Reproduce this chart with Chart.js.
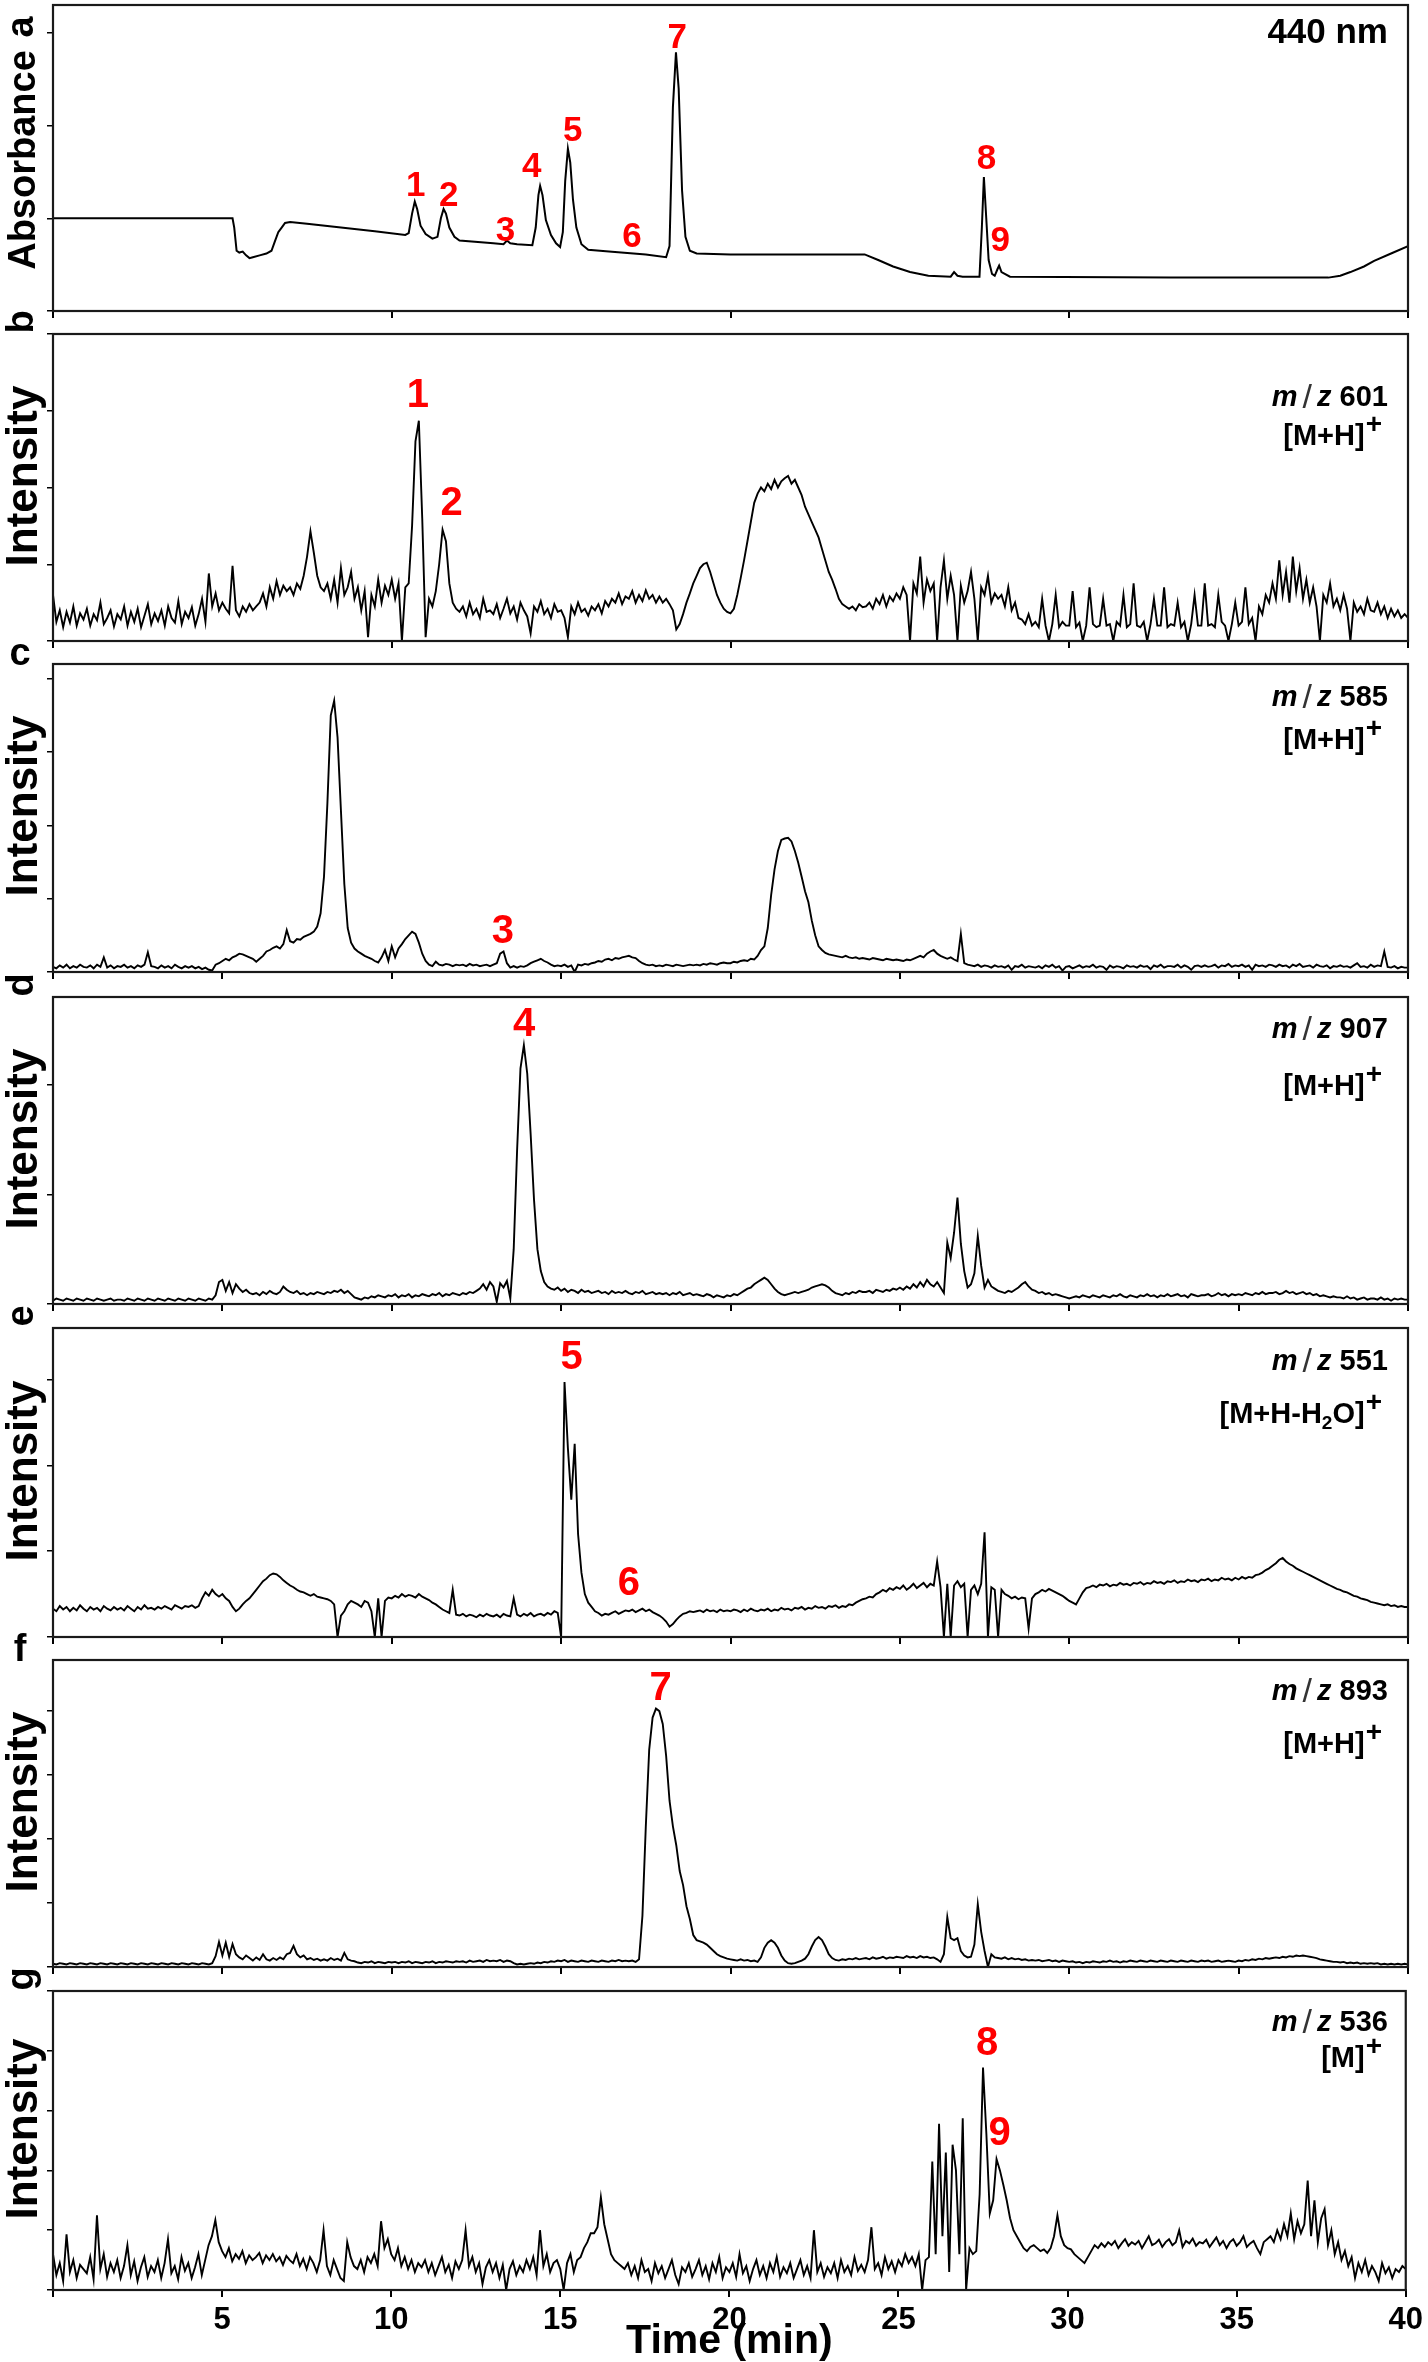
<!DOCTYPE html>
<html>
<head>
<meta charset="utf-8">
<script src="https://cdn.jsdelivr.net/npm/chart.js@4.4.1/dist/chart.umd.min.js"></script>
<style>
  html, body { margin: 0; padding: 0; background: #fff; }
  #fig { position: relative; width: 1428px; height: 2362px; overflow: hidden; background: #fff;
         font-family: "Liberation Sans", Arial, Helvetica, sans-serif; color: #000; }
  #fig canvas { position: absolute; left: 0; }
  .t { position: absolute; white-space: nowrap; font-weight: bold; line-height: 1; }
  .ytitle { font-size: 44px; transform: translate(-50%, -50%) rotate(-90deg); }
  .ytitle.abs { font-size: 38px; }
  .letter { font-size: 38px; transform: translate(-50%, -50%); }
  .letter.rot { transform: translate(-50%, -50%) rotate(-90deg); }
  .mz { right: 40px; text-align: right; font-size: 29px; transform: translateY(-50%); }
  .mz .sl { font-weight: normal; font-size: 34px; color: #333; margin: 0 5px; position: relative; top: 2px; }
  .mz sup { font-size: 28px; position: relative; top: -12px; vertical-align: baseline; margin-left: 1px; }
  .mz sub { font-size: 19px; position: relative; top: 6px; vertical-align: baseline; }
  .peak { color: #f00; font-size: 40px; transform: translate(-50%, -50%); }
  .peak.small { font-size: 35px; }
</style>
</head>
<body>
<div id="fig"></div>
<script>
/* ---------- data ---------- */

// panel a: absorbance at 440 nm, [time (min), absorbance (tick units)]
const traceA = [
  [0,1.0],[5.3,1.0],[5.35,0.9],[5.42,0.65],[5.5,0.63],[5.6,0.64],[5.7,0.6],[5.8,0.57],[5.9,0.58],
  [6.1,0.6],[6.3,0.62],[6.45,0.65],[6.55,0.75],[6.65,0.85],[6.75,0.9],[6.85,0.95],[7.0,0.96],
  [7.5,0.94],[8.5,0.9],[9.5,0.86],[10.4,0.82],[10.5,0.84],[10.6,1.05],[10.68,1.18],[10.75,1.1],
  [10.85,0.92],[11.0,0.83],[11.2,0.78],[11.35,0.8],[11.45,1.0],[11.53,1.1],[11.6,1.05],[11.7,0.9],
  [11.85,0.8],[12.0,0.76],[13.0,0.73],[13.3,0.72],[13.4,0.76],[13.5,0.73],[13.7,0.72],[14.15,0.71],
  [14.25,0.9],[14.33,1.25],[14.38,1.35],[14.45,1.25],[14.55,0.98],[14.7,0.82],[14.85,0.73],
  [14.97,0.69],[15.05,0.85],[15.12,1.4],[15.2,1.75],[15.27,1.6],[15.35,1.2],[15.45,0.9],[15.6,0.72],
  [15.8,0.66],[16.5,0.64],[17.5,0.61],[18.1,0.58],[18.2,0.7],[18.3,2.2],[18.39,2.79],[18.47,2.4],
  [18.57,1.3],[18.67,0.8],[18.8,0.65],[19.0,0.62],[20,0.61],[23.96,0.61],[24.36,0.55],[24.8,0.48],
  [25.3,0.42],[25.84,0.38],[26.5,0.37],[26.6,0.42],[26.7,0.38],[26.85,0.37],[27.35,0.37],
  [27.42,0.9],[27.48,1.445],[27.55,1.0],[27.62,0.55],[27.72,0.4],[27.8,0.38],[27.88,0.45],
  [27.93,0.49],[28.0,0.42],[28.25,0.37],[33,0.36],[37.65,0.36],[38.0,0.38],[38.3,0.42],
  [38.7,0.48],[39.0,0.54],[39.5,0.62],[40,0.7]
];

// MS extracted-ion traces, one value every SAMPLE_MIN minutes from 0 to 40 (one row = 1 min)
const SAMPLE_MIN = 0.1;

const intensB = [ // m/z 601
  0.6,0.25,0.4,0.18,0.38,0.24,0.45,0.2,0.36,0.28,
  0.42,0.2,0.35,0.27,0.5,0.22,0.3,0.4,0.19,0.35,
  0.28,0.45,0.2,0.38,0.25,0.42,0.18,0.33,0.48,0.22,
  0.36,0.26,0.4,0.2,0.45,0.3,0.24,0.52,0.22,0.38,
  0.3,0.44,0.2,0.35,0.55,0.25,0.88,0.45,0.62,0.4,
  0.5,0.42,0.36,0.98,0.4,0.32,0.45,0.38,0.48,0.4,
  0.45,0.5,0.62,0.45,0.7,0.55,0.78,0.6,0.72,0.65,
  0.7,0.6,0.75,0.68,0.85,1.1,1.43,1.15,0.85,0.7,
  0.65,0.75,0.55,0.8,0.5,0.95,0.6,0.7,0.9,0.55,
  0.7,0.4,0.65,0.05,0.6,0.45,0.8,0.5,0.72,0.6,
  0.8,0.55,0.75,0.0,0.7,0.75,1.5,2.6,2.87,1.6,
  0.05,0.55,0.45,0.65,1.0,1.45,1.3,0.75,0.5,0.42,
  0.38,0.45,0.32,0.5,0.35,0.42,0.3,0.55,0.38,0.4,
  0.35,0.48,0.3,0.42,0.55,0.36,0.45,0.28,0.5,0.4,
  0.32,0.1,0.45,0.38,0.52,0.35,0.42,0.3,0.48,0.38,
  0.4,0.3,0.05,0.45,0.35,0.5,0.38,0.42,0.33,0.45,
  0.4,0.48,0.36,0.52,0.45,0.55,0.5,0.62,0.48,0.58,
  0.55,0.65,0.5,0.6,0.52,0.66,0.55,0.6,0.5,0.58,
  0.5,0.55,0.48,0.4,0.15,0.22,0.35,0.5,0.62,0.75,
  0.85,0.95,1.0,1.02,0.9,0.75,0.6,0.5,0.42,0.38,
  0.36,0.42,0.6,0.82,1.05,1.3,1.55,1.8,1.92,2.0,
  1.95,2.05,1.98,2.1,2.0,2.08,2.12,2.15,2.05,2.1,
  2.0,1.9,1.75,1.65,1.55,1.45,1.35,1.2,1.05,0.9,
  0.8,0.68,0.55,0.48,0.45,0.42,0.45,0.4,0.48,0.44,
  0.45,0.5,0.42,0.55,0.48,0.6,0.45,0.58,0.52,0.62,
  0.55,0.7,0.6,0.0,0.75,0.62,1.1,0.5,0.8,0.65,
  0.75,0.0,0.7,1.05,0.55,0.85,0.6,0.0,0.72,0.5,
  0.65,0.9,0.55,0.0,0.7,0.6,0.85,0.5,0.62,0.55,
  0.6,0.45,0.7,0.4,0.5,0.3,0.28,0.22,0.35,0.2,
  0.25,0.18,0.55,0.2,0.0,0.22,0.6,0.18,0.25,0.2,
  0.2,0.65,0.18,0.24,0.0,0.2,0.7,0.22,0.18,0.2,
  0.55,0.2,0.22,0.0,0.25,0.2,0.6,0.18,0.22,0.75,
  0.2,0.18,0.25,0.0,0.22,0.55,0.2,0.2,0.7,0.18,
  0.22,0.2,0.5,0.18,0.25,0.0,0.22,0.6,0.2,0.2,
  0.75,0.2,0.22,0.18,0.6,0.25,0.2,0.0,0.22,0.5,
  0.2,0.25,0.7,0.22,0.3,0.0,0.45,0.35,0.6,0.5,
  0.75,0.55,1.05,0.6,0.9,0.5,1.1,0.65,0.95,0.55,
  0.8,0.5,0.7,0.45,0.0,0.6,0.5,0.75,0.45,0.55,
  0.4,0.6,0.42,0.0,0.5,0.38,0.45,0.35,0.55,0.4,
  0.38,0.5,0.35,0.45,0.3,0.42,0.32,0.4,0.3,0.35,
  0.3
];

const intensC = [ // m/z 585
  0.07,0.05,0.09,0.06,0.1,0.05,0.08,0.06,0.1,0.07,
  0.06,0.09,0.05,0.1,0.07,0.2,0.06,0.09,0.05,0.08,
  0.07,0.1,0.06,0.08,0.05,0.09,0.07,0.1,0.27,0.08,
  0.07,0.05,0.09,0.06,0.08,0.05,0.1,0.07,0.05,0.08,
  0.06,0.08,0.05,0.07,0.04,0.06,0.03,0.02,0.1,0.12,
  0.15,0.18,0.16,0.2,0.22,0.25,0.24,0.22,0.2,0.18,
  0.14,0.18,0.22,0.28,0.3,0.33,0.35,0.32,0.38,0.57,
  0.42,0.4,0.45,0.44,0.48,0.5,0.52,0.55,0.62,0.8,
  1.3,2.3,3.5,3.7,3.2,2.2,1.2,0.6,0.4,0.32,
  0.28,0.25,0.22,0.2,0.18,0.15,0.13,0.2,0.3,0.15,
  0.35,0.2,0.32,0.38,0.45,0.5,0.55,0.52,0.4,0.25,
  0.15,0.1,0.08,0.14,0.1,0.09,0.11,0.1,0.08,0.1,
  0.09,0.1,0.08,0.11,0.09,0.1,0.08,0.09,0.1,0.08,
  0.1,0.12,0.25,0.28,0.12,0.06,0.08,0.06,0.08,0.07,
  0.09,0.12,0.14,0.16,0.18,0.15,0.13,0.1,0.08,0.09,
  0.08,0.1,0.07,0.09,0.0,0.1,0.09,0.11,0.1,0.12,
  0.13,0.15,0.14,0.17,0.18,0.16,0.19,0.18,0.2,0.21,
  0.22,0.2,0.19,0.15,0.12,0.1,0.09,0.1,0.08,0.09,
  0.08,0.1,0.09,0.08,0.1,0.09,0.08,0.09,0.1,0.09,
  0.1,0.09,0.11,0.1,0.12,0.11,0.1,0.12,0.13,0.12,
  0.12,0.14,0.13,0.15,0.16,0.15,0.18,0.17,0.22,0.3,
  0.35,0.6,1.05,1.4,1.65,1.8,1.82,1.83,1.78,1.65,
  1.49,1.3,1.1,0.95,0.7,0.5,0.35,0.3,0.26,0.24,
  0.23,0.22,0.21,0.2,0.22,0.2,0.19,0.2,0.18,0.19,
  0.18,0.17,0.19,0.18,0.17,0.16,0.18,0.17,0.16,0.17,
  0.16,0.15,0.17,0.16,0.18,0.2,0.22,0.2,0.25,0.28,
  0.3,0.25,0.22,0.2,0.18,0.2,0.17,0.15,0.52,0.12,
  0.1,0.09,0.08,0.1,0.07,0.09,0.08,0.06,0.09,0.07,
  0.08,0.06,0.09,0.03,0.08,0.07,0.1,0.06,0.08,0.07,
  0.06,0.08,0.05,0.09,0.07,0.1,0.06,0.08,0.02,0.07,
  0.08,0.05,0.07,0.09,0.06,0.08,0.07,0.1,0.06,0.08,
  0.07,0.03,0.09,0.06,0.08,0.07,0.05,0.09,0.07,0.08,
  0.06,0.09,0.07,0.08,0.04,0.09,0.07,0.1,0.06,0.08,
  0.08,0.07,0.1,0.06,0.09,0.07,0.03,0.08,0.09,0.07,
  0.09,0.07,0.08,0.1,0.06,0.09,0.08,0.11,0.07,0.09,
  0.08,0.1,0.07,0.09,0.03,0.1,0.08,0.09,0.07,0.1,
  0.09,0.07,0.1,0.08,0.09,0.06,0.1,0.08,0.11,0.07,
  0.08,0.09,0.06,0.1,0.08,0.07,0.09,0.05,0.08,0.07,
  0.09,0.07,0.08,0.06,0.09,0.12,0.07,0.08,0.06,0.1,
  0.07,0.09,0.08,0.28,0.07,0.06,0.08,0.05,0.07,0.06,
  0.06
];

const intensD = [ // m/z 907
  0.03,0.05,0.04,0.03,0.05,0.04,0.03,0.05,0.04,0.03,
  0.05,0.04,0.03,0.05,0.04,0.03,0.04,0.05,0.03,0.04,
  0.04,0.03,0.05,0.04,0.03,0.05,0.04,0.03,0.05,0.04,
  0.03,0.05,0.04,0.03,0.05,0.04,0.03,0.05,0.04,0.03,
  0.05,0.04,0.03,0.05,0.04,0.03,0.05,0.04,0.08,0.2,
  0.22,0.12,0.2,0.1,0.18,0.14,0.11,0.13,0.1,0.09,
  0.1,0.08,0.11,0.09,0.12,0.1,0.09,0.11,0.16,0.13,
  0.11,0.1,0.12,0.09,0.1,0.08,0.1,0.09,0.11,0.1,
  0.09,0.11,0.1,0.12,0.11,0.13,0.1,0.12,0.09,0.06,
  0.05,0.04,0.06,0.05,0.07,0.06,0.08,0.07,0.06,0.08,
  0.07,0.09,0.06,0.08,0.07,0.09,0.06,0.08,0.07,0.09,
  0.08,0.07,0.09,0.08,0.1,0.07,0.09,0.08,0.1,0.09,
  0.08,0.1,0.09,0.11,0.1,0.12,0.14,0.18,0.13,0.2,
  0.16,0.02,0.19,0.15,0.21,0.05,0.5,1.4,2.15,2.36,
  2.1,1.55,0.95,0.5,0.3,0.2,0.16,0.14,0.13,0.15,
  0.12,0.14,0.11,0.13,0.12,0.1,0.13,0.11,0.12,0.1,
  0.11,0.12,0.1,0.11,0.09,0.12,0.1,0.11,0.1,0.12,
  0.1,0.09,0.11,0.1,0.12,0.09,0.1,0.11,0.09,0.1,
  0.09,0.1,0.08,0.1,0.09,0.11,0.08,0.09,0.1,0.08,
  0.09,0.08,0.07,0.09,0.08,0.06,0.08,0.07,0.06,0.08,
  0.07,0.09,0.08,0.1,0.12,0.14,0.15,0.18,0.2,0.22,
  0.24,0.22,0.18,0.14,0.11,0.09,0.08,0.09,0.1,0.11,
  0.1,0.11,0.12,0.13,0.15,0.16,0.17,0.18,0.17,0.15,
  0.12,0.1,0.09,0.08,0.1,0.09,0.11,0.1,0.12,0.11,
  0.11,0.12,0.1,0.13,0.12,0.11,0.13,0.12,0.14,0.13,
  0.15,0.13,0.16,0.14,0.18,0.15,0.2,0.16,0.22,0.18,
  0.16,0.2,0.15,0.1,0.56,0.42,0.65,0.97,0.55,0.3,
  0.15,0.18,0.28,0.62,0.35,0.15,0.22,0.16,0.14,0.12,
  0.11,0.1,0.12,0.11,0.13,0.15,0.18,0.2,0.16,0.13,
  0.12,0.1,0.11,0.09,0.1,0.08,0.09,0.08,0.07,0.06,
  0.05,0.06,0.07,0.06,0.08,0.07,0.06,0.08,0.07,0.06,
  0.08,0.07,0.06,0.08,0.07,0.09,0.07,0.06,0.08,0.07,
  0.06,0.08,0.07,0.09,0.07,0.08,0.06,0.08,0.07,0.09,
  0.07,0.08,0.09,0.07,0.08,0.06,0.09,0.08,0.07,0.08,
  0.08,0.09,0.07,0.08,0.1,0.08,0.09,0.07,0.09,0.08,
  0.09,0.08,0.1,0.09,0.08,0.1,0.09,0.11,0.09,0.1,
  0.1,0.11,0.09,0.1,0.12,0.1,0.11,0.09,0.1,0.11,
  0.09,0.1,0.08,0.09,0.07,0.08,0.07,0.06,0.07,0.06,
  0.06,0.05,0.07,0.05,0.06,0.04,0.05,0.06,0.04,0.05,
  0.05,0.04,0.06,0.04,0.05,0.03,0.05,0.04,0.05,0.04,
  0.04
];

const intensE = [ // m/z 551
  0.33,0.3,0.36,0.32,0.35,0.3,0.34,0.31,0.37,0.33,
  0.3,0.35,0.32,0.34,0.3,0.36,0.33,0.31,0.35,0.32,
  0.34,0.31,0.36,0.33,0.3,0.35,0.32,0.37,0.33,0.34,
  0.32,0.35,0.33,0.36,0.34,0.32,0.37,0.35,0.33,0.36,
  0.35,0.37,0.34,0.36,0.45,0.52,0.48,0.55,0.5,0.47,
  0.5,0.45,0.42,0.35,0.3,0.33,0.38,0.42,0.45,0.5,
  0.55,0.6,0.65,0.68,0.72,0.74,0.73,0.7,0.66,0.63,
  0.6,0.58,0.55,0.53,0.52,0.5,0.48,0.5,0.47,0.46,
  0.45,0.44,0.42,0.38,0.0,0.25,0.3,0.38,0.42,0.4,
  0.38,0.35,0.42,0.4,0.3,0.0,0.45,0.0,0.42,0.46,
  0.45,0.48,0.46,0.5,0.47,0.49,0.48,0.46,0.5,0.47,
  0.45,0.43,0.4,0.38,0.35,0.32,0.3,0.28,0.55,0.26,
  0.25,0.27,0.24,0.26,0.25,0.23,0.26,0.24,0.27,0.25,
  0.24,0.26,0.23,0.27,0.25,0.24,0.45,0.26,0.24,0.27,
  0.25,0.28,0.24,0.26,0.27,0.25,0.28,0.26,0.3,0.28,
  0.0,2.97,2.2,1.6,2.25,1.2,0.75,0.5,0.4,0.35,
  0.3,0.28,0.25,0.27,0.26,0.28,0.3,0.27,0.29,0.31,
  0.3,0.32,0.29,0.31,0.33,0.3,0.32,0.29,0.27,0.25,
  0.22,0.18,0.12,0.15,0.2,0.24,0.27,0.28,0.3,0.29,
  0.3,0.31,0.29,0.32,0.3,0.31,0.29,0.32,0.3,0.31,
  0.3,0.32,0.31,0.29,0.32,0.3,0.33,0.31,0.3,0.32,
  0.31,0.33,0.3,0.32,0.31,0.34,0.32,0.33,0.31,0.34,
  0.33,0.35,0.32,0.34,0.33,0.36,0.34,0.35,0.33,0.36,
  0.35,0.37,0.34,0.36,0.35,0.38,0.37,0.4,0.42,0.44,
  0.45,0.47,0.46,0.5,0.52,0.55,0.53,0.57,0.55,0.58,
  0.56,0.6,0.55,0.58,0.62,0.57,0.6,0.63,0.58,0.62,
  0.6,0.88,0.58,0.0,0.62,0.0,0.6,0.65,0.58,0.62,
  0.0,0.55,0.6,0.5,0.62,1.22,0.0,0.58,0.55,0.0,
  0.55,0.5,0.48,0.45,0.47,0.44,0.46,0.45,0.1,0.45,
  0.5,0.52,0.55,0.53,0.56,0.54,0.52,0.5,0.48,0.45,
  0.42,0.4,0.38,0.45,0.52,0.57,0.58,0.6,0.58,0.61,
  0.6,0.62,0.59,0.61,0.6,0.63,0.61,0.62,0.6,0.63,
  0.62,0.64,0.61,0.63,0.62,0.65,0.63,0.64,0.62,0.65,
  0.64,0.66,0.63,0.65,0.64,0.67,0.65,0.66,0.64,0.67,
  0.66,0.68,0.65,0.67,0.66,0.69,0.67,0.68,0.66,0.69,
  0.67,0.7,0.68,0.7,0.69,0.72,0.73,0.75,0.78,0.8,
  0.83,0.86,0.9,0.92,0.88,0.85,0.83,0.8,0.78,0.76,
  0.74,0.72,0.7,0.68,0.66,0.64,0.62,0.6,0.58,0.56,
  0.55,0.53,0.52,0.5,0.48,0.47,0.45,0.44,0.43,0.41,
  0.4,0.39,0.38,0.37,0.38,0.36,0.37,0.35,0.36,0.35,
  0.35
];

const intensF = [ // m/z 893
  0.05,0.04,0.06,0.05,0.04,0.06,0.05,0.04,0.06,0.05,
  0.04,0.06,0.05,0.04,0.06,0.05,0.04,0.06,0.05,0.04,
  0.06,0.05,0.04,0.06,0.05,0.04,0.06,0.05,0.04,0.06,
  0.05,0.04,0.06,0.05,0.04,0.06,0.05,0.04,0.06,0.05,
  0.04,0.06,0.05,0.04,0.06,0.05,0.04,0.06,0.17,0.39,
  0.18,0.38,0.16,0.36,0.2,0.15,0.12,0.18,0.14,0.1,
  0.15,0.11,0.2,0.12,0.1,0.14,0.11,0.15,0.12,0.2,
  0.22,0.33,0.2,0.15,0.18,0.12,0.14,0.11,0.13,0.1,
  0.12,0.1,0.14,0.11,0.13,0.1,0.22,0.12,0.1,0.09,
  0.07,0.06,0.08,0.07,0.09,0.06,0.08,0.07,0.06,0.08,
  0.07,0.08,0.06,0.08,0.07,0.09,0.06,0.08,0.07,0.06,
  0.08,0.07,0.09,0.06,0.08,0.07,0.09,0.08,0.07,0.09,
  0.08,0.09,0.07,0.1,0.08,0.09,0.1,0.08,0.11,0.09,
  0.1,0.09,0.11,0.08,0.1,0.09,0.06,0.04,0.05,0.04,
  0.05,0.06,0.05,0.07,0.06,0.08,0.07,0.09,0.08,0.1,
  0.09,0.11,0.08,0.1,0.09,0.08,0.1,0.09,0.08,0.1,
  0.09,0.08,0.1,0.09,0.08,0.1,0.09,0.11,0.09,0.1,
  0.09,0.1,0.08,0.12,0.8,2.2,3.4,3.9,4.04,4.0,
  3.8,3.3,2.6,2.2,1.9,1.5,1.28,0.95,0.75,0.5,
  0.42,0.4,0.38,0.35,0.3,0.25,0.2,0.17,0.15,0.13,
  0.12,0.11,0.1,0.12,0.1,0.11,0.09,0.1,0.08,0.15,
  0.3,0.38,0.42,0.38,0.3,0.18,0.1,0.06,0.05,0.06,
  0.08,0.1,0.13,0.2,0.32,0.42,0.47,0.42,0.32,0.2,
  0.14,0.11,0.1,0.12,0.11,0.13,0.12,0.14,0.12,0.13,
  0.14,0.12,0.15,0.13,0.14,0.16,0.13,0.15,0.14,0.16,
  0.15,0.14,0.17,0.15,0.16,0.14,0.17,0.15,0.16,0.14,
  0.15,0.12,0.08,0.2,0.78,0.45,0.42,0.45,0.25,0.18,
  0.15,0.16,0.35,0.98,0.55,0.25,0.0,0.2,0.15,0.14,
  0.13,0.15,0.12,0.14,0.12,0.13,0.11,0.12,0.1,0.11,
  0.1,0.11,0.09,0.1,0.11,0.09,0.1,0.08,0.1,0.09,
  0.08,0.09,0.07,0.08,0.06,0.08,0.07,0.09,0.08,0.07,
  0.09,0.08,0.1,0.08,0.09,0.07,0.09,0.08,0.1,0.09,
  0.08,0.1,0.09,0.08,0.1,0.09,0.08,0.1,0.09,0.08,
  0.1,0.09,0.08,0.1,0.09,0.08,0.1,0.09,0.08,0.1,
  0.09,0.1,0.08,0.09,0.1,0.08,0.09,0.1,0.09,0.08,
  0.1,0.09,0.11,0.1,0.12,0.11,0.13,0.12,0.14,0.13,
  0.14,0.15,0.14,0.16,0.15,0.17,0.16,0.18,0.17,0.18,
  0.17,0.16,0.15,0.14,0.12,0.11,0.1,0.09,0.08,0.08,
  0.07,0.08,0.06,0.07,0.06,0.07,0.05,0.06,0.05,0.06,
  0.05,0.06,0.04,0.05,0.04,0.05,0.04,0.05,0.04,0.05,
  0.04
];

const intensG = [ // m/z 536
  0.6,0.25,0.45,0.15,0.93,0.3,0.5,0.2,0.42,0.35,
  0.28,0.55,0.18,1.25,0.35,0.6,0.22,0.45,0.3,0.5,
  0.2,0.4,0.75,0.25,0.48,0.15,0.38,0.55,0.22,0.4,
  0.3,0.5,0.2,0.45,0.85,0.28,0.4,0.18,0.55,0.32,
  0.45,0.2,0.38,0.6,0.25,0.5,0.75,0.9,1.17,0.8,
  0.65,0.55,0.7,0.48,0.6,0.52,0.65,0.45,0.58,0.5,
  0.55,0.62,0.45,0.58,0.5,0.6,0.48,0.55,0.42,0.57,
  0.5,0.45,0.6,0.4,0.52,0.35,0.55,0.45,0.3,0.5,
  1.0,0.4,0.25,0.5,0.35,0.2,0.15,0.8,0.55,0.4,
  0.35,0.5,0.3,0.55,0.45,0.6,0.4,1.15,0.7,0.85,
  0.6,0.5,0.7,0.4,0.55,0.35,0.5,0.3,0.45,0.38,
  0.5,0.3,0.45,0.25,0.4,0.55,0.3,0.42,0.2,0.48,
  0.35,0.5,1.0,0.4,0.55,0.3,0.45,0.1,0.38,0.5,
  0.3,0.45,0.2,0.42,0.0,0.35,0.48,0.25,0.4,0.3,
  0.5,0.35,0.55,0.25,1.0,0.4,0.6,0.3,0.45,0.5,
  0.35,0.0,0.45,0.6,0.3,0.5,0.55,0.7,0.8,0.95,
  0.95,1.05,1.55,1.1,0.85,0.6,0.5,0.45,0.4,0.35,
  0.45,0.25,0.4,0.2,0.5,0.3,0.35,0.15,0.45,0.28,
  0.4,0.2,0.35,0.5,0.25,0.1,0.38,0.3,0.45,0.22,
  0.35,0.5,0.25,0.4,0.18,0.45,0.3,0.55,0.2,0.38,
  0.3,0.45,0.22,0.6,0.28,0.4,0.15,0.35,0.5,0.25,
  0.4,0.2,0.45,0.3,0.55,0.22,0.38,0.28,0.45,0.2,
  0.35,0.5,0.25,0.4,0.2,1.0,0.3,0.45,0.22,0.38,
  0.28,0.45,0.2,0.5,0.3,0.4,0.25,0.55,0.32,0.42,
  0.3,0.5,1.05,0.35,0.45,0.25,0.55,0.35,0.48,0.3,
  0.5,0.4,0.6,0.45,0.55,0.4,0.6,0.0,0.5,0.55,
  2.15,0.6,2.78,0.9,2.3,0.3,2.43,2.0,0.6,2.87,
  0.0,0.7,0.6,0.65,1.6,3.72,2.6,1.28,1.5,2.19,
  2.0,1.76,1.5,1.2,1.0,0.9,0.8,0.7,0.65,0.72,
  0.75,0.7,0.65,0.68,0.62,0.7,0.9,1.25,0.9,0.75,
  0.7,0.68,0.6,0.55,0.5,0.45,0.55,0.65,0.75,0.7,
  0.78,0.72,0.8,0.75,0.82,0.7,0.78,0.85,0.74,0.8,
  0.76,0.82,0.7,0.8,0.9,0.75,0.78,0.84,0.72,0.8,
  0.85,0.75,0.8,1.0,0.72,0.82,0.78,0.86,0.74,0.8,
  0.78,0.84,0.72,0.8,0.88,0.75,0.82,0.7,0.8,0.85,
  0.74,0.8,0.9,0.72,0.78,0.82,0.7,0.6,0.8,0.85,
  0.9,0.8,1.0,0.85,1.1,0.9,1.28,0.85,1.15,0.95,
  1.1,1.83,0.9,1.5,0.8,1.2,1.35,0.75,1.0,0.6,
  0.8,0.5,0.65,0.4,0.55,0.2,0.45,0.3,0.5,0.25,
  0.4,0.3,0.15,0.45,0.28,0.38,0.2,0.35,0.3,0.4,
  0.35
];

// red peak numbers: text, time (min), height (tick units)
const peaksA = [
  {text:'1', t:10.71, v:1.38}, {text:'2', t:11.68, v:1.27}, {text:'3', t:13.36, v:0.9},
  {text:'4', t:14.13, v:1.58}, {text:'5', t:15.34, v:1.97}, {text:'6', t:17.09, v:0.83},
  {text:'7', t:18.43, v:2.98}, {text:'8', t:27.56, v:1.67}, {text:'9', t:27.96, v:0.79}
];
const peaksB = [{text:'1', t:10.77, v:3.23}, {text:'2', t:11.77, v:1.82}];
const peaksC = [{text:'3', t:13.28, v:0.58}];
const peaksD = [{text:'4', t:13.91, v:2.57}];
const peaksE = [{text:'5', t:15.31, v:3.28}, {text:'6', t:17.0, v:0.65}];
const peaksF = [{text:'7', t:17.94, v:4.4}];
const peaksG = [{text:'8', t:27.62, v:4.16}, {text:'9', t:27.99, v:2.66}];

const timeTicks = [5, 10, 15, 20, 25, 30, 35, 40];

/* ---------- layout ---------- */
const fig = document.getElementById('fig');
const FONT = '"Liberation Sans", Arial, Helvetica, sans-serif';
const PLOT_LEFT = 53, PLOT_RIGHT = 1408, W = 1428, H = 2362;

const panels = [
  {key:'a', top:5,    bottom:311,  yMax:3.3, xStep:10, pts: traceA.map(p => ({x:p[0], y:p[1]})), peaks: peaksA, lw:2,
   ytitle:'Absorbance', titleY:160, letterRot:true, small:true, letterY:27},
  {key:'b', top:334,  bottom:641,  yMax:4.0, xStep:10, series: intensB, peaks: peaksB, ytitle:'Intensity', letterRot:true,
   mz:'601', ion:'[M+H]<sup>+</sup>', l1:60, l2:101},
  {key:'c', top:664,  bottom:972,  yMax:4.2, xStep:5, series: intensC, peaks: peaksC, ytitle:'Intensity', letterRot:false,
   mz:'585', ion:'[M+H]<sup>+</sup>', l1:30, l2:75},
  {key:'d', top:997,  bottom:1304, yMax:2.8, xStep:5, series: intensD, peaks: peaksD, ytitle:'Intensity', letterRot:true,
   mz:'907', ion:'[M+H]<sup>+</sup>', l1:29, l2:88},
  {key:'e', top:1328, bottom:1637, yMax:3.6, xStep:5, series: intensE, peaks: peaksE, ytitle:'Intensity', letterRot:true,
   mz:'551', ion:'[M+H-H<sub>2</sub>O]<sup>+</sup>', l1:30, l2:85},
  {key:'f', top:1660, bottom:1967, yMax:4.8, xStep:5, series: intensF, peaks: peaksF, ytitle:'Intensity', letterRot:false,
   mz:'893', ion:'[M+H]<sup>+</sup>', l1:28, l2:83},
  {key:'g', top:1991, bottom:2290, yMax:5.0, xStep:5, series: intensG, peaks: peaksG, ytitle:'Intensity', letterRot:true,
   mz:'536', ion:'[M]<sup>+</sup>', l1:28, l2:66, last:true}
];

function addText(cls, html, left, top) {
  const d = document.createElement('div');
  d.className = 't ' + cls;
  d.innerHTML = html;
  if (left !== null) d.style.left = left + 'px';
  d.style.top = top + 'px';
  fig.appendChild(d);
  return d;
}

// box frame + red peak numbers, positioned through the chart's own scales
function panelPlugin(peaks, small, canvasTop) {
  let placed = false;
  return {
    id: 'panelExtras',
    afterDraw(chart) {
      const {ctx, chartArea: a} = chart;
      ctx.save();
      ctx.strokeStyle = '#1a1a1a';
      ctx.lineWidth = 2.2;
      ctx.strokeRect(a.left, a.top, a.right - a.left, a.bottom - a.top);
      ctx.restore();
      if (placed) return;
      placed = true;
      peaks.forEach(p => {
        const px = chart.scales.x.getPixelForValue(p.t);
        const py = canvasTop + chart.scales.y.getPixelForValue(p.v);
        addText('peak' + (small ? ' small' : ''), p.text, px, py);
      });
    }
  };
}

const PAD_TOP = 10;

panels.forEach(p => {
  const xH = p.last ? (H - p.bottom) : 14;
  const canvasTop = p.top - PAD_TOP;
  const ch = p.bottom - p.top + PAD_TOP + xH;
  const cv = document.createElement('canvas');
  cv.width = W; cv.height = ch;
  cv.style.width = W + 'px'; cv.style.height = ch + 'px';
  cv.style.top = canvasTop + 'px';
  fig.appendChild(cv);

  const data = p.pts || p.series.map((v, i) => ({x: i * SAMPLE_MIN, y: v}));

  new Chart(cv.getContext('2d'), {
    type: 'line',
    data: { datasets: [{ data, borderColor: '#000', borderWidth: p.lw || 1.9, pointRadius: 0, tension: 0, fill: false }] },
    options: {
      responsive: false, animation: false, events: [], parsing: false, normalized: true,
      layout: { padding: { left: PLOT_LEFT - 8, right: W - PLOT_RIGHT, top: PAD_TOP, bottom: 0 } },
      plugins: { legend: { display: false }, tooltip: { enabled: false } },
      scales: {
        x: {
          type: 'linear', min: 0, max: 40,
          ticks: {
            display: !!p.last, stepSize: p.xStep, autoSkip: false, maxRotation: 0, includeBounds: false,
            color: '#000', padding: 5, font: { family: FONT, size: 31, weight: 'bold' },
            callback: v => timeTicks.includes(v) ? String(v) : ''
          },
          grid: { drawOnChartArea: false, drawTicks: true, tickLength: 7, color: '#000', lineWidth: 2 },
          border: { color: '#1a1a1a', width: 2 },
          title: { display: !!p.last, text: 'Time (min)', color: '#000', padding: { top: 0, bottom: 0 },
                   font: { family: FONT, size: 41, weight: 'bold', lineHeight: 1 } },
          afterFit: s => { s.height = xH; }
        },
        y: {
          min: 0, max: p.yMax,
          ticks: { display: false, stepSize: 1, includeBounds: false },
          grid: { drawOnChartArea: false, drawTicks: true, tickLength: 6, color: '#000', lineWidth: 1.5 },
          border: { color: '#1a1a1a', width: 2 },
          afterFit: s => { s.width = 8; }
        }
      }
    },
    plugins: [panelPlugin(p.peaks, p.small, canvasTop)]
  });

  // axis title, panel letter, ion label
  addText('ytitle' + (p.key === 'a' ? ' abs' : ''), p.ytitle, 22, p.titleY || ((p.top + p.bottom) / 2 - 12));
  addText('letter' + (p.letterRot ? ' rot' : ''), p.key, 20, p.letterY || (p.top - 12));
  if (p.mz) {
    addText('mz', '<i>m</i><span class="sl">/</span><i>z</i> ' + p.mz, null, p.top + p.l1);
    addText('mz', p.ion, null, p.top + p.l2).style.right = '46px';
  }
});

// wavelength label of the absorbance panel
addText('mz', '440 nm', null, 30).style.fontSize = '35px';
</script>
</body>
</html>
